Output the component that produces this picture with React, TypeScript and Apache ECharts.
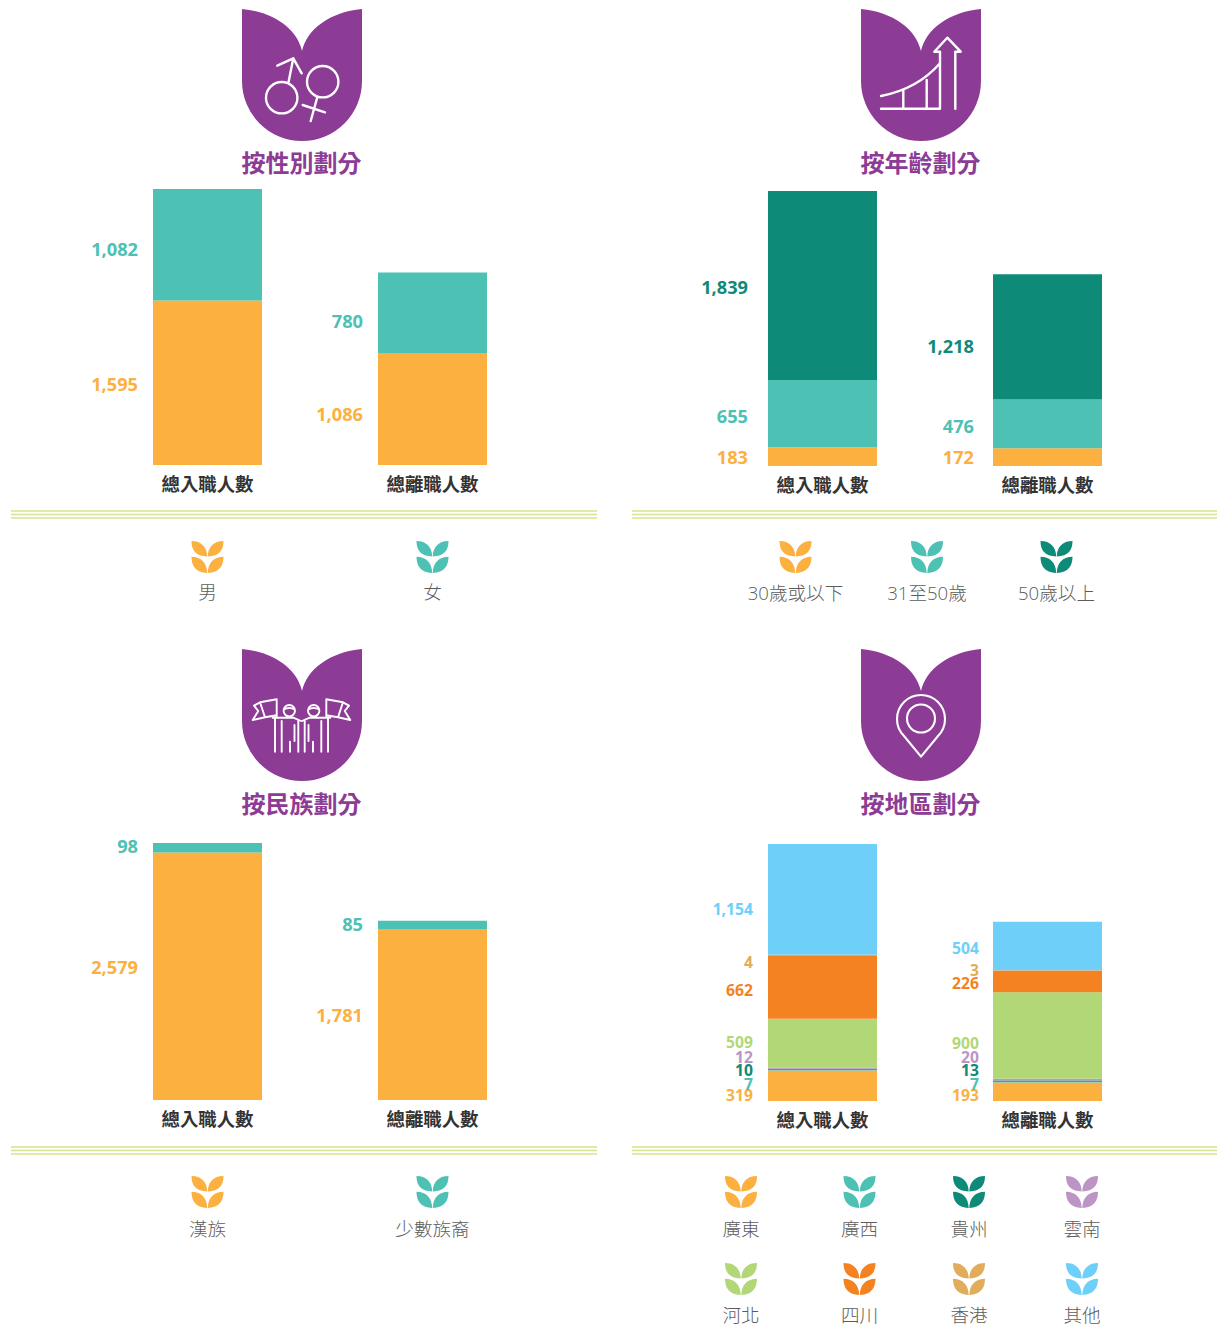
import React, { useEffect, useRef } from "react";
import * as echarts from "echarts";

const ORANGE = "#fbb03f";
const TEAL = "#4cc1b4";
const DARK_TEAL = "#0e8a78";
const LILAC = "#bc94c6";
const GREEN = "#b2d776";
const DEEP_ORANGE = "#f58220";
const TAN = "#e2ad5b";
const SKY = "#6ed0f9";
const PURPLE = "#8d3c96";

const barCategoriesHire = "總入職人數";
const barCategoriesLeave = "總離職人數";

const genderNames = ["男", "女"];
const genderHire = [1595, 1082];
const genderLeave = [1086, 780];

const ageNames = ["30歲或以下", "31至50歲", "50歲以上"];
const ageHire = [183, 655, 1839];
const ageLeave = [172, 476, 1218];

const ethnicNames = ["漢族", "少數族裔"];
const ethnicHire = [2579, 98];
const ethnicLeave = [1781, 85];

const regionNames = ["廣東", "廣西", "貴州", "雲南", "河北", "四川", "香港", "其他"];
const regionHire = [319, 7, 10, 12, 509, 662, 4, 1154];
const regionLeave = [193, 7, 13, 20, 900, 226, 3, 504];

const panelTitles = ["按性別劃分", "按年齡劃分", "按民族劃分", "按地區劃分"];

// vertical nudges of the value labels, in pixels (styling, not data)
const nudgeGender = [[1, 4], [5, 8]];
const nudgeAge = [[0, 2, 2], [0, 2, 9]];
const nudgeEthnic = [[-9, -2], [0, -1]];
const nudgeRegion = [
  [9, 14, 1, -11, -1, 3, 7, 10],
  [3, 2, -11, -23, 8, 2, 0, 2],
];

const FONT = '"Open Sans", "Noto Sans CJK TC", sans-serif';

const TULIP = "M0 0C32 3 55 20 60 42C65 20 88 3 120 0L120 72A60 60 0 0 1 0 72Z";
const LEAF =
  "M0 0C10 0 15.5 6 15.7 15.5C4 15 0 9 0 0ZM32 0C22 0 16.5 6 16.3 15.5C28 15 32 9 32 0Z" +
  "M0 15.7C10 15.7 15.5 22 15.7 32C4 31 0 25 0 15.7ZM32 15.7C22 15.7 16.5 22 16.3 32C28 31 32 25 32 15.7Z";
const ICON_GENDER =
  "M24 88.7a15.7 15.7 0 1 0 31.4 0a15.7 15.7 0 1 0 -31.4 0Z" +
  "M46.3 74.3L51.3 49.3M35.3 56.7L51.3 49.3L59.7 64.3" +
  "M65 72.7a15.7 15.7 0 1 0 31.4 0a15.7 15.7 0 1 0 -31.4 0Z" +
  "M75.3 88.3L68.7 112M60.7 96L83 103.3";
const ICON_AGE =
  "M20 99.7L79 99.7M20 87C36 84 60 76 79 54.3M42.3 81L42.3 99.7M65.7 71L65.7 99.7" +
  "M79 99.7L79 42.7L73.3 42.7L86.3 28.7L99.7 42.7L94.3 42.7L94.3 99.7";
const ICON_PIN =
  "M60 107.7L43 87A24 24 0 1 1 77 87Z" +
  "M46 69.5a14 14 0 1 0 28 0a14 14 0 1 0 -28 0Z";
const ICON_PERSON =
  "M34.7 50.3L34.7 67.7M34.7 50.3L18 53.3L12 56.7L16.3 62L10.7 71L23 68.3L34.7 66.3M18 53.3L23 68.3" +
  "M41.6 61.7a5.7 5.7 0 1 0 11.4 0a5.7 5.7 0 1 0 -11.4 0ZM42 60.5C45 58.5 50 58.5 52.5 60.5" +
  "M30.7 68.7L51.3 68.7L59 72M33 68.7L33 102.7M39.7 72L39.7 102.7M48 92.7L48 102.7M56.3 72L56.3 102.7M52.5 76L52.5 92";

const reg = (name: string, d: string) =>
  echarts.graphic.registerShape(name, echarts.graphic.extendPath(d as any, {}));
reg("tulip", TULIP);
reg("leaf", LEAF);
reg("iconGender", ICON_GENDER);
reg("iconAge", ICON_AGE);
reg("iconPin", ICON_PIN);
reg("iconPerson", ICON_PERSON);

const fmt = (p: any) => Number(p.value).toLocaleString("en-US");

function stackSeries(
  gridIndex: number,
  names: string[],
  hire: number[],
  leave: number[],
  colors: string[],
  nudges: number[][],
  fontSize: number,
  distances: number[]
) {
  return names.map((name, i) => ({
    type: "bar",
    name,
    xAxisIndex: gridIndex,
    yAxisIndex: gridIndex,
    stack: "s" + gridIndex,
    barWidth: 109,
    itemStyle: { color: colors[i] },
    label: {
      show: true,
      position: "left",
      formatter: fmt,
      color: colors[i],
      fontFamily: FONT,
      fontSize,
      fontWeight: 700,
    },
    data: [hire[i], leave[i]].map((value, k) => ({
      value,
      label: { offset: [0, nudges[k][i]], distance: distances[k] },
    })),
  }));
}

const grids = [
  { left: 95, top: 189, width: 450, height: 276 },
  { left: 710, top: 191, width: 450, height: 275 },
  { left: 95, top: 843, width: 450, height: 257 },
  { left: 710, top: 844, width: 450, height: 257 },
];

function legendItem(x: number, iconY: number, name: string, color: string, textDy: number) {
  return [
    { type: "leaf", x: x - 16, y: iconY, silent: true, style: { fill: color } },
    {
      type: "text",
      x,
      y: iconY + textDy,
      silent: true,
      style: {
        text: name,
        fill: "#5c5c5c",
        fontFamily: FONT,
        fontSize: 18.6,
        fontWeight: 300,
        textAlign: "center",
        textVerticalAlign: "middle",
      },
    },
  ];
}

function rules(x1: number, x2: number, y: number) {
  return [0, 3.5, 7].map((d) => ({
    type: "line",
    silent: true,
    shape: { x1, x2, y1: y + d, y2: y + d },
    style: { stroke: "#d7e48c", lineWidth: 1.6 },
  }));
}

function badge(x: number, y: number, iconType: string, title: string, lw: number, titleDy: number, mirror = false) {
  const icon = { fill: "none", stroke: "#ffffff", lineWidth: lw, lineCap: "round", lineJoin: "round" };
  const els: any[] = [
    { type: "tulip", x, y, silent: true, style: { fill: PURPLE } },
    { type: iconType, x, y, silent: true, style: icon },
  ];
  if (mirror) els.push({ type: iconType, x: x + 119, y, scaleX: -1, silent: true, style: icon });
  els.push({
    type: "text",
    x: x + 59.5,
    y: y + titleDy,
    silent: true,
    style: {
      text: title,
      fill: PURPLE,
      fontFamily: FONT,
      fontSize: 24,
      fontWeight: 700,
      textAlign: "center",
      textVerticalAlign: "middle",
    },
  });
  return els;
}

export default function App() {
  const ref = useRef<HTMLDivElement>(null);
  useEffect(() => {
    document.body.style.margin = "0";
    const chart = echarts.init(ref.current!, null, { renderer: "svg" });
    const categories = [barCategoriesHire, barCategoriesLeave];
    const graphicEls: any[] = [
      ...badge(242, 9, "iconGender", panelTitles[0], 2.4, 153),
      ...badge(861, 9, "iconAge", panelTitles[1], 2.4, 153),
      ...badge(242, 649, "iconPerson", panelTitles[2], 1.9, 154, true),
      ...badge(861, 649, "iconPin", panelTitles[3], 2.1, 154),
      ...rules(11, 597, 511),
      ...rules(632, 1217, 511),
      ...rules(11, 597, 1147),
      ...rules(632, 1217, 1147),
      ...legendItem(207.5, 541, genderNames[0], ORANGE, 50),
      ...legendItem(432.5, 541, genderNames[1], TEAL, 50),
      ...legendItem(795.5, 541, ageNames[0], ORANGE, 51),
      ...legendItem(927, 541, ageNames[1], TEAL, 51),
      ...legendItem(1056.5, 541, ageNames[2], DARK_TEAL, 51),
      ...legendItem(207.5, 1176, ethnicNames[0], ORANGE, 52),
      ...legendItem(432.5, 1176, ethnicNames[1], TEAL, 52),
      ...legendItem(741, 1176, regionNames[0], ORANGE, 52),
      ...legendItem(859.5, 1176, regionNames[1], TEAL, 52),
      ...legendItem(969, 1176, regionNames[2], DARK_TEAL, 52),
      ...legendItem(1082, 1176, regionNames[3], LILAC, 52),
      ...legendItem(741, 1263, regionNames[4], GREEN, 51.5),
      ...legendItem(859.5, 1263, regionNames[5], DEEP_ORANGE, 51.5),
      ...legendItem(969, 1263, regionNames[6], TAN, 51.5),
      ...legendItem(1082, 1263, regionNames[7], SKY, 51.5),
    ];
    chart.setOption({
      animation: false,
      backgroundColor: "#ffffff",
      grid: grids,
      xAxis: grids.map((_, gridIndex) => ({
        type: "category",
        gridIndex,
        data: categories,
        axisLine: { show: false },
        axisTick: { show: false },
        axisLabel: {
          interval: 0,
          margin: 9,
          color: "#333333",
          fontFamily: FONT,
          fontSize: 18.4,
          fontWeight: 700,
        },
      })),
      yAxis: grids.map((_, gridIndex) => ({
        type: "value",
        gridIndex,
        min: 0,
        max: 2677,
        show: false,
      })),
      series: [
        ...stackSeries(0, genderNames, genderHire, genderLeave, [ORANGE, TEAL], nudgeGender, 18.2, [15, 15]),
        ...stackSeries(1, ageNames, ageHire, ageLeave, [ORANGE, TEAL, DARK_TEAL], nudgeAge, 18.2, [20, 19]),
        ...stackSeries(2, ethnicNames, ethnicHire, ethnicLeave, [ORANGE, TEAL], nudgeEthnic, 18.2, [15, 15]),
        ...stackSeries(
          3,
          regionNames,
          regionHire,
          regionLeave,
          [ORANGE, TEAL, DARK_TEAL, LILAC, GREEN, DEEP_ORANGE, TAN, SKY],
          nudgeRegion,
          15.7,
          [15, 14]
        ),
      ],
      graphic: { elements: graphicEls },
    });
    return () => chart.dispose();
  }, []);
  return <div ref={ref} style={{ position: "absolute", left: 0, top: 0, width: 1217, height: 1327 }} />;
}
